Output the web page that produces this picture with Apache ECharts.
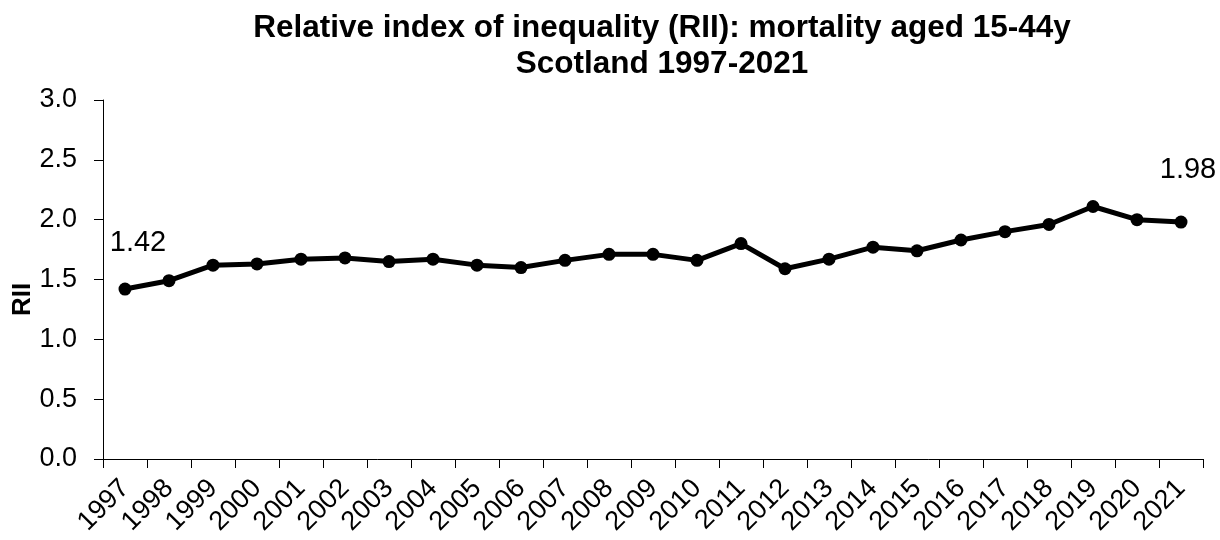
<!DOCTYPE html>
<html>
<head>
<meta charset="utf-8">
<script src="https://cdn.jsdelivr.net/npm/echarts@6/dist/echarts.min.js"></script>
<style>
  html, body { margin: 0; padding: 0; background: #fff; }
  #chart { width: 1220px; height: 540px; }
</style>
</head>
<body>
<div id="chart"></div>
<script>
const years = ['1997', '1998', '1999', '2000', '2001', '2002', '2003', '2004', '2005', '2006', '2007', '2008', '2009',
    '2010', '2011', '2012', '2013', '2014', '2015', '2016', '2017', '2018', '2019', '2020', '2021'];
const rii = [1.42, 1.49, 1.62, 1.63, 1.67, 1.68, 1.65, 1.67, 1.62, 1.60, 1.66, 1.71, 1.71,
    1.66, 1.80, 1.59, 1.67, 1.77, 1.74, 1.83, 1.90, 1.96, 2.11, 2.00, 1.98];
// only first and last points carry a label
const labelled = [0, rii.length - 1];

const font = '"Liberation Sans", Arial, sans-serif';

const chart = echarts.init(document.getElementById('chart'));

const option = {
    animation: false,
    title: {
        text: 'Relative index of inequality (RII): mortality aged 15-44y\nScotland 1997-2021',
        left: 662,
        top: 10,
        padding: 0,
        textAlign: 'center',
        textStyle: {
            fontFamily: font,
            fontWeight: 'bold',
            fontSize: 31.5,
            lineHeight: 36,
            color: '#000'
        }
    },
    grid: {
        left: 103,
        right: 17,
        top: 100,
        bottom: 81,
        containLabel: false,
        outerBoundsMode: 'none'
    },
    xAxis: {
        type: 'category',
        data: years,
        boundaryGap: true,
        axisLine: { lineStyle: { color: '#000', width: 1 } },
        axisTick: { show: true, length: 9, lineStyle: { color: '#000' } },
        axisLabel: {
            interval: 0,
            rotate: 45,
            margin: 25,
            // push the rotated text down-right so its end sits like the original
            padding: [17, 0, 0, 0],
            fontFamily: font,
            fontSize: 27,
            color: '#000'
        }
    },
    yAxis: {
        type: 'value',
        min: 0,
        max: 3,
        interval: 0.5,
        name: 'RII',
        nameLocation: 'middle',
        nameGap: 67,
        nameMoveOverlap: false,
        nameTextStyle: {
            fontFamily: font,
            fontWeight: 'bold',
            fontSize: 26,
            color: '#000',
            padding: [0, 40, 0, 0]
        },
        axisLine: { show: true, lineStyle: { color: '#000', width: 1 } },
        axisTick: { show: true, inside: false, length: 9, lineStyle: { color: '#000' } },
        splitLine: { show: false },
        axisLabel: {
            margin: 26,
            fontFamily: font,
            fontSize: 27,
            color: '#000',
            formatter: v => v.toFixed(1)
        }
    },
    series: [
        {
            type: 'line',
            data: rii.map((v, i) => {
                if (!labelled.includes(i)) return v;
                return {
                    value: v,
                    label: {
                        show: true,
                        position: 'top',
                        distance: i === 0 ? 25 : 31,
                        offset: i === 0 ? [13, 0] : [7, 0],
                        fontFamily: font,
                        fontSize: 29,
                        color: '#000',
                        formatter: p => p.value.toFixed(2)
                    }
                };
            }),
            symbol: 'circle',
            symbolSize: 13,
            lineStyle: { color: '#000', width: 5 },
            itemStyle: { color: '#000' }
        }
    ]
};

chart.setOption(option);
window.addEventListener('resize', () => chart.resize());
</script>
</body>
</html>
